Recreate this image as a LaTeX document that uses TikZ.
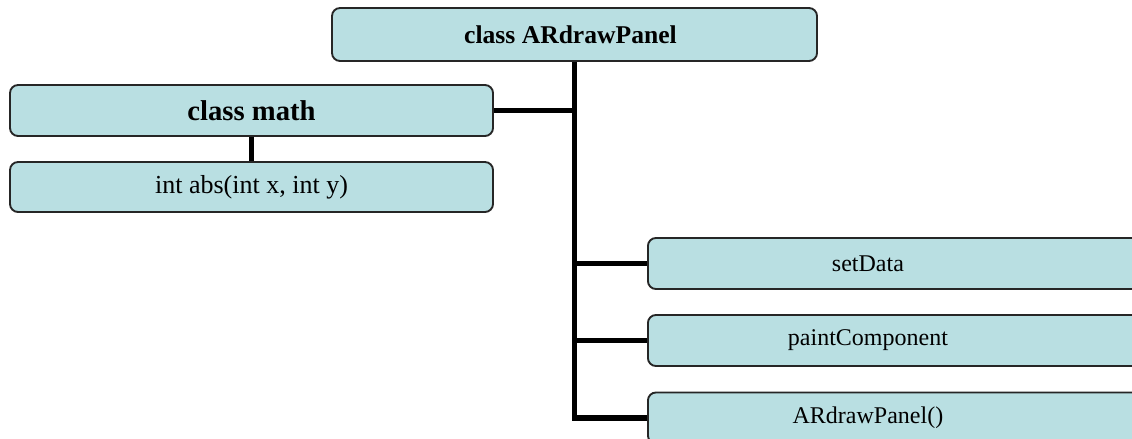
\documentclass[tikz,border=0pt]{standalone}
\usepackage{fontspec}
\setmainfont{Liberation Serif}
\usetikzlibrary{positioning}
\definecolor{boxBlue}{HTML}{B9DFE2}

\begin{document}
\begin{tikzpicture}[x=0.75pt, y=-0.75pt,
    box/.style={draw=black!85, line width=1.4pt, rounded corners=6pt, fill=boxBlue, inner sep=0pt},
    link/.style={line width=3.8pt}]
  \path[use as bounding box, clip] (0,0) rectangle (1132,439);
  % the panel class and the math class
  \node[box, minimum width=363.75pt, minimum height=39.75pt] (panel) at (574.5,34.5)
    {\fontsize{19.2}{21}\selectfont\bfseries class ARdrawPanel\hspace*{6pt}};
  \node[box, minimum width=362.25pt, minimum height=38.25pt] (math) at (251.5,110.5)
    {\fontsize{21.5}{23}\selectfont\bfseries class math};
  \node[box, minimum width=362.25pt, minimum height=37.5pt] (abs) at (251.5,187)
    {\fontsize{19.5}{21}\selectfont int abs(int x, int y)};
  % methods of the panel
  \foreach \name/\lbl/\y in {set/setData/263.5, paint/paintComponent/340.5, ctor/{ARdrawPanel()}/418}
    \node[box, anchor=west, minimum width=405pt, minimum height=38.25pt] (\name) at (647,\y)
      {\fontsize{18}{20}\selectfont \lbl\hspace*{75pt}};
  % links
  \draw[link] (panel.south) |- (ctor.west);
  \foreach \name in {set, paint}
    \draw[link] (panel.south |- \name.west) -- (\name.west);
  \draw[link] (math.east) -- (math.east -| panel.south);
  \draw[link] (math.south) -- (abs.north);
\end{tikzpicture}
\end{document}
